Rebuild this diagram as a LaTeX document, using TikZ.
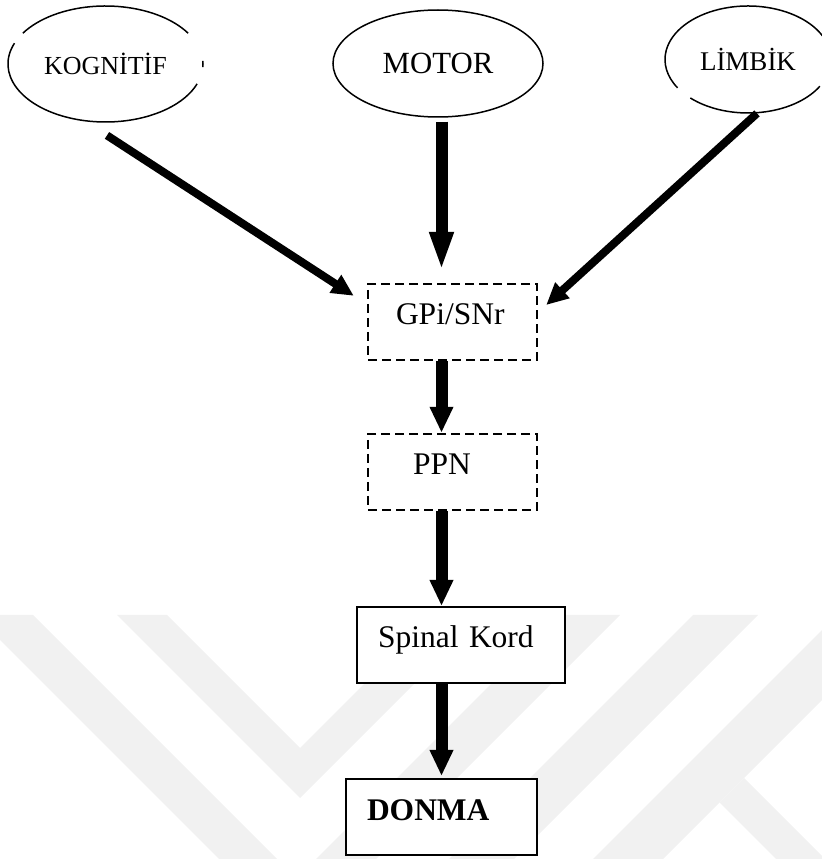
\documentclass[tikz,border=0pt]{standalone}
\usepackage{fontspec}
\setmainfont{Liberation Serif}
\usetikzlibrary{arrows.meta,shapes.geometric}
\definecolor{wmgray}{HTML}{F1F1F1}
\tikzset{
  ov/.style={ellipse,inner sep=0pt},
  ovl/.style={line width=0.75pt},
  bx/.style={draw,line width=1pt,fill=white,align=left,inner ysep=0pt,text height=3pt,text depth=0pt,minimum height=38pt,font=\fontsize{15.75}{18}\selectfont},
  dbx/.style={bx,line width=1.2pt,dash pattern=on 4.5pt off 2.5pt},
  ar/.style={-{Triangle[length=13pt,width=11pt]},line width=6pt},
  ard/.style={-{Triangle[length=11pt,width=10pt]},line width=4pt},
  wm/.style={fill=wmgray,draw=none}
}
\begin{document}
\begin{tikzpicture}[x=0.5pt,y=0.5pt]
\useasboundingbox (0,0) rectangle (822,859);
\clip (0,0) rectangle (822,859);
\fill[wm] (-25,244) -- (33,244) -- (277,0) -- (219,0) -- cycle;
\fill[wm] (117,244) -- (167,244) -- (300,111) -- (433,244) -- (483,244) -- (300,61) -- cycle;
\fill[wm] (560,244) -- (620,244) -- (376,0) -- (316,0) -- cycle;
\fill[wm] (693,244) -- (758,244) -- (514,0) -- (449,0) -- cycle;
\fill[wm] (837,244) -- (907,244) -- (663,0) -- (593,0) -- cycle;
\fill[wm] (744,81) -- (825,0) -- (776,0) -- (719.5,56.5) -- cycle;
\node[ov,minimum width=97.5pt,minimum height=58pt,font=\fontsize{13}{15}\selectfont] (kog) at (105.5,795) {KOGNİTİF};
\node[ov,draw,ovl,minimum width=105pt,minimum height=53.5pt,font=\fontsize{15.4}{18}\selectfont] (mot) at (438,795.5) {MOTOR};
\node[ov,minimum width=83pt,minimum height=53.5pt,font=\fontsize{13.5}{16}\selectfont] (lim) at (748,799.5) {LİMBİK};
\draw[ovl] ([shift={(32:48.75pt and 29pt)}]kog.center) arc[start angle=32,end angle=148,x radius=48.75pt,y radius=29pt];
\draw[ovl] ([shift={(159:48.75pt and 29pt)}]kog.center) arc[start angle=159,end angle=340,x radius=48.75pt,y radius=29pt];
\draw[ovl] ([shift={(357:48.75pt and 29pt)}]kog.center) arc[start angle=357,end angle=363,x radius=48.75pt,y radius=29pt];
\draw[ovl] ([shift={(20:41.5pt and 26.75pt)}]lim.center) arc[start angle=20,end angle=212,x radius=41.5pt,y radius=26.75pt];
\draw[ovl] ([shift={(226:41.5pt and 26.75pt)}]lim.center) arc[start angle=226,end angle=330,x radius=41.5pt,y radius=26.75pt];
\node[dbx,inner xsep=14pt,text width=56.5pt] (gpi) at (452.5,537) {GPi/SNr};
\node[dbx,inner xsep=22.5pt,text width=39.5pt] (ppn) at (452.5,387) {PPN};
\node[bx,inner xsep=10.5pt,text width=83pt] (spi) at (461,214) {Spinal Kord};
\node[bx,inner xsep=10.5pt,text width=74.5pt] (don) at (441.5,42) {\textbf{DONMA}};
\draw[ard] ([shift={(0.75pt,-6.5pt)}]kog.south) -- ([shift={(-6.5pt,-6.5pt)}]gpi.north west);
\draw[ard] ([xshift=4.5pt]lim.south) -- ([shift={(4pt,8.5pt)}]gpi.east);
\draw[ar,-{Triangle[length=19.5pt,width=11pt]},shorten <=2pt,shorten >=6pt] (mot.south -| don.north) -- (gpi.north -| don.north);
\draw[ar] (gpi.south -| don.north) -- (ppn.north -| don.north);
\draw[ar] (ppn.south -| don.north) -- (spi.north -| don.north);
\draw[ar,shorten >=1pt] (spi.south -| don.north) -- (don.north);
\end{tikzpicture}
\end{document}
